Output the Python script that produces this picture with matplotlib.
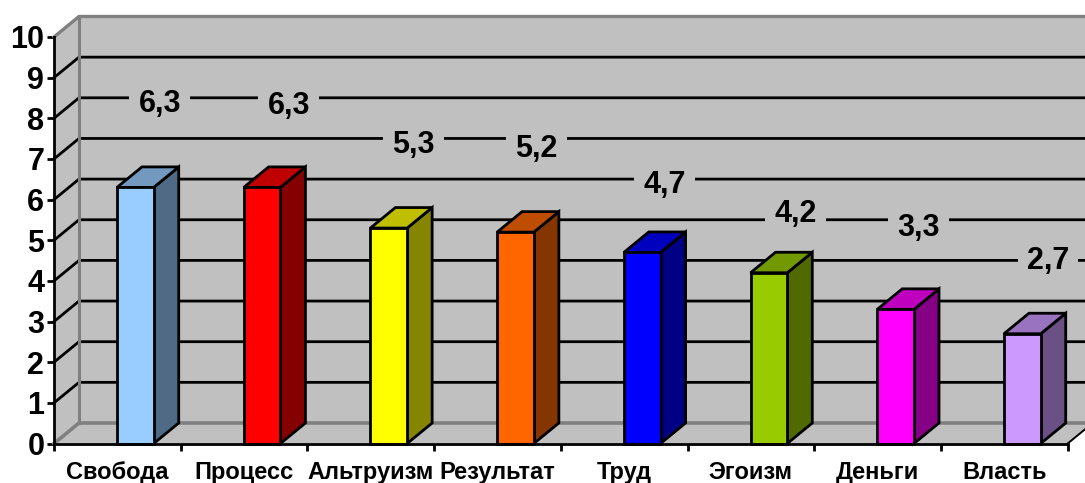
import matplotlib
matplotlib.use("Agg")
import matplotlib.pyplot as plt
from matplotlib.patches import Polygon

categories = ["Свобода", "Процесс", "Альтруизм", "Результат", "Труд", "Эгоизм", "Деньги", "Власть"]
values = [6.3, 6.3, 5.3, 5.2, 4.7, 4.2, 3.3, 2.7]
value_labels = ["6,3", "6,3", "5,3", "5,2", "4,7", "4,2", "3,3", "2,7"]
y_ticks = list(range(11))

# front colours of the bars, side and top are darker versions
bar_colors = ["#99CCFF", "#FF0000", "#FFFF00", "#FF6600", "#0000FF", "#99CC00", "#FF00FF", "#CC99FF"]

# where the data labels sit relative to their bars
label_dx = [0.338, 0.356, 0.342, 0.313, 0.323, 0.353, 0.323, 0.348]
label_lift = [2.04, 2.0, 2.04, 2.04, 1.66, 1.44, 2.0, 1.78]

WALL = "#C0C0C0"
EDGE = "#808080"
FONT = "Liberation Sans"
DX = 25 / 126.7   # depth in category units
DY = 20.5 / 40.65  # depth in value units
BAR_W = 0.29
LW = 2.0


def shade(color, k):
    r, g, b = matplotlib.colors.to_rgb(color)
    return (r * k, g * k, b * k)


def main():
    fig = plt.figure(figsize=(10.85, 4.83), dpi=100)
    ax = fig.add_axes([54 / 1085, 39.5 / 483, 1013.7 / 1085, 406.5 / 483])
    ax.set_xlim(0, len(categories))
    ax.set_ylim(0, 10)
    ax.patch.set_visible(False)
    n = len(categories)

    # walls and floor
    ax.add_patch(Polygon([(DX, DY), (n + DX, DY), (n + DX, 10 + DY), (DX, 10 + DY)],
                         fc=WALL, ec="none", clip_on=False, zorder=1))
    ax.add_patch(Polygon([(0, 0), (DX, DY), (DX, 10 + DY), (0, 10)],
                         fc=WALL, ec="none", clip_on=False, zorder=1))
    ax.add_patch(Polygon([(0, 0), (n, 0), (n + DX, DY), (DX, DY)],
                         fc=WALL, ec="none", clip_on=False, zorder=1))

    # gridlines
    for k in y_ticks[1:-1]:
        ax.plot([0, DX, n + DX], [k, k + DY, k + DY], color="black", lw=LW,
                clip_on=False, zorder=2, solid_joinstyle="miter")

    # wall edges
    ax.plot([0, DX, n + DX], [10, 10 + DY, 10 + DY], color=EDGE, lw=LW + 0.4, clip_on=False, zorder=2)
    ax.plot([DX, DX], [DY, 10 + DY], color=EDGE, lw=LW + 0.2, clip_on=False, zorder=2)
    ax.plot([0, DX, n + DX], [0, DY, DY], color=EDGE, lw=LW + 0.6, clip_on=False, zorder=2)
    ax.plot([n, n + DX], [0, DY], color="black", lw=1.4, clip_on=False, zorder=2)

    # bars
    for i, v in enumerate(values):
        x0 = i + 0.497
        x1 = x0 + BAR_W
        c = bar_colors[i]
        ax.add_patch(Polygon([(x1, 0), (x1 + DX, DY), (x1 + DX, v + DY), (x1, v)],
                             fc=shade(c, 0.52), ec="black", lw=LW, clip_on=False, zorder=3))
        ax.add_patch(Polygon([(x0, v), (x1, v), (x1 + DX, v + DY), (x0 + DX, v + DY)],
                             fc=shade(c, 0.75), ec="black", lw=LW, clip_on=False, zorder=3))
        ax.add_patch(Polygon([(x0, 0), (x1, 0), (x1, v), (x0, v)],
                             fc=c, ec="black", lw=LW, clip_on=False, zorder=4))
        ax.text(x0 + label_dx[i], v + label_lift[i], value_labels[i], ha="center", va="center",
                fontsize=22, fontweight="bold", family=FONT, color="black", zorder=5,
                bbox=dict(boxstyle="square,pad=0.3", fc=WALL, ec="none"))

    # axes
    for side in ["top", "right"]:
        ax.spines[side].set_visible(False)
    for side in ["left", "bottom"]:
        ax.spines[side].set_linewidth(LW)
        ax.spines[side].set_zorder(6)
    ax.set_yticks(y_ticks)
    ax.set_yticklabels([str(t) for t in y_ticks], fontsize=22, fontweight="bold", family=FONT)
    ax.tick_params(axis="y", length=5, width=LW, pad=2)
    ax.set_xticks(range(n + 1))
    ax.set_xticklabels([])
    ax.set_xticks([i + 0.5 for i in range(n)], minor=True)
    ax.set_xticklabels(categories, minor=True, fontsize=17, fontweight="bold", family=FONT)
    ax.tick_params(axis="x", which="major", length=5, width=LW)
    ax.tick_params(axis="x", which="minor", length=0, pad=12.8)

    fig.savefig("out.png", dpi=100)
    plt.close(fig)


if __name__ == "__main__":
    main()
